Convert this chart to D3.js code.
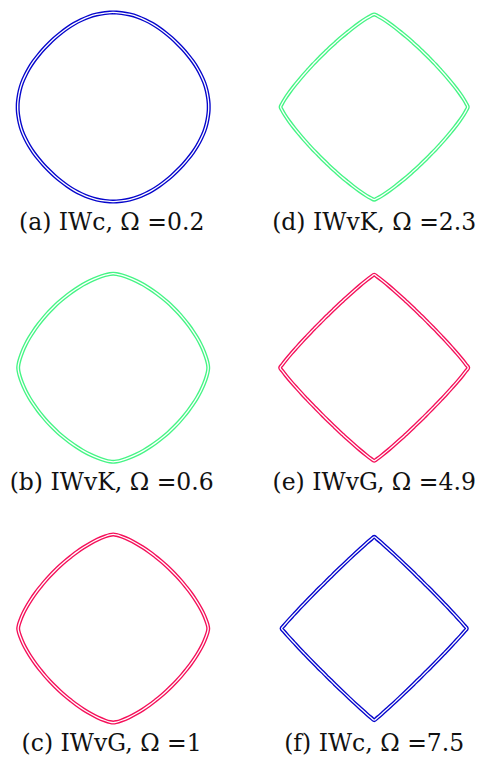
<!DOCTYPE html>
<html>
<head>
<meta charset="utf-8">
<script src="https://cdn.jsdelivr.net/npm/d3@7"></script>
<style>
  html, body { margin: 0; padding: 0; background: #fff; }
  svg { display: block; }
</style>
</head>
<body>
<div id="chart"></div>
<script>
// Panel captions, in reading order (left column a-c, right column d-f)
const captions = [
    "(a) IWc, Ω =0.2",
    "(b) IWvK, Ω =0.6",
    "(c) IWvG, Ω =1",
    "(d) IWvK, Ω =2.3",
    "(e) IWvG, Ω =4.9",
    "(f) IWc, Ω =7.5"
];
const columns = [0, 0, 0, 1, 1, 1];
const rows = [0, 1, 2, 0, 1, 2];
const colors = ["#0606cc", "#45f585", "#f5105a", "#45f585", "#f5105a", "#0606cc"];

// Polar samples of one octant of each closed curve: angle (deg) from a tip,
// radius relative to the tip radius (the rest follows by symmetry)
const octantAngles = [0, 2, 5, 10, 15, 20, 25, 30, 35, 40, 45];
const radiiA = [1, 1.000, 0.998, 0.994, 0.988, 0.979, 0.971, 0.963, 0.956, 0.952, 0.950];
const radiiB = [1, 0.997, 0.988, 0.971, 0.954, 0.938, 0.924, 0.913, 0.905, 0.901, 0.899];
const radiiC = [1, 0.995, 0.982, 0.959, 0.936, 0.916, 0.899, 0.885, 0.876, 0.870, 0.868];
const radiiD = [1, 0.985, 0.960, 0.919, 0.883, 0.853, 0.830, 0.812, 0.800, 0.792, 0.790];
const radiiE = [1, 0.977, 0.943, 0.893, 0.851, 0.818, 0.792, 0.773, 0.759, 0.751, 0.749];
const radiiF = [1, 0.973, 0.935, 0.880, 0.837, 0.802, 0.775, 0.755, 0.742, 0.733, 0.731];
const allRadii = [radiiA, radiiB, radiiC, radiiD, radiiE, radiiF];
const tipRadius = [0.995, 0.99, 0.99, 0.975, 0.98, 0.965];

const width = 484;
const height = 760;

const svg = d3.select("#chart")
    .append("svg")
    .attr("width", width)
    .attr("height", height)
    .style("background-color", "#fff");

const colScale = d3.scalePoint().domain([0, 1]).range([113.2, 374.2]);
const rowScale = d3.scalePoint().domain([0, 1, 2]).range([107, 628.5]);

// mirror an octant into the whole curve
function fullCurve(radii, tip) {
    const pts = [];
    for (let k = 0; k < 8; k++) {
        const idx = d3.range(octantAngles.length - 1);
        idx.forEach((i) => {
            const j = k % 2 === 0 ? i : octantAngles.length - 1 - i;
            const a = k % 2 === 0 ? octantAngles[i] : 45 - octantAngles[j];
            pts.push({ theta: (k * 45 + a) * Math.PI / 180, r: radii[j] * tip });
        });
    }
    return pts;
}

captions.forEach((caption, p) => {
    const cx = colScale(columns[p]);
    const cy = rowScale(rows[p]);

    const x = d3.scaleLinear().domain([-1, 1]).range([cx - 96, cx + 96]);
    const y = d3.scaleLinear().domain([-1, 1]).range([cy + 95, cy - 95]);

    const line = d3.line()
        .x((d) => x(d.r * Math.sin(d.theta)))
        .y((d) => y(d.r * Math.cos(d.theta)))
        .curve(d3.curveCatmullRomClosed.alpha(0.5));

    const pts = fullCurve(allRadii[p], tipRadius[p]);
    const g = svg.append("g").attr("class", "panel");

    // double line: wide coloured stroke with a thin white core
    g.append("path")
        .attr("d", line(pts))
        .attr("fill", "none")
        .attr("stroke", colors[p])
        .attr("stroke-width", 4.0);

    g.append("path")
        .attr("d", line(pts))
        .attr("fill", "none")
        .attr("stroke", "#fff")
        .attr("stroke-width", 1.3);

    g.append("text")
        .attr("x", columns[p] === 0 ? cx - 1.5 : cx)
        .attr("y", cy + 122.7)
        .attr("text-anchor", "middle")
        .attr("font-family", "'DejaVu Serif', serif")
        .attr("font-size", "23.5px")
        .attr("fill", "#111")
        .text(caption);
});
</script>
</body>
</html>
